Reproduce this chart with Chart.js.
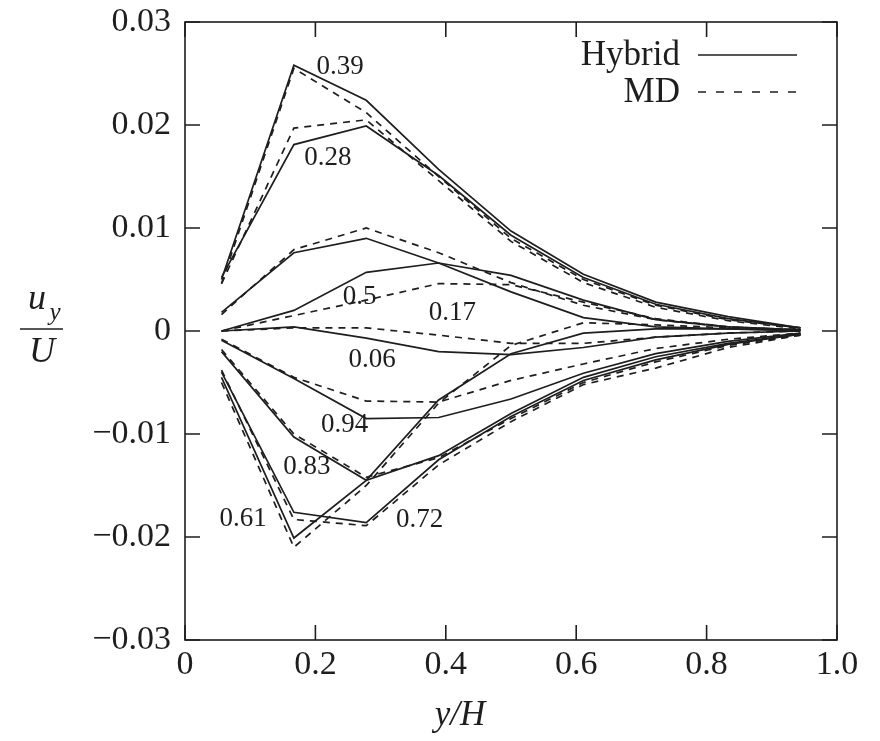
<!DOCTYPE html>
<html>
<head>
<meta charset="utf-8">
<script src="https://cdn.jsdelivr.net/npm/chart.js@4.4.1/dist/chart.umd.min.js"></script>
<style>
  html, body { margin: 0; padding: 0; background: #ffffff; }
  #wrap { width: 880px; height: 741px; }
</style>
</head>
<body>
<div id="wrap"><canvas id="c" width="880" height="741"></canvas></div>
<script>
// Sample positions across the channel (bin centres, y/H)
const yOverH = [0.056, 0.167, 0.278, 0.389, 0.5, 0.611, 0.722, 0.833, 0.944];

// Phase of the cycle for each profile
const phases = ['0.06', '0.17', '0.28', '0.39', '0.5', '0.61', '0.72', '0.83', '0.94'];

// u_y / U profiles, hybrid solver
const hybrid006 = [0.0000, 0.0004, -0.0007, -0.0020, -0.0023, -0.0016, -0.0006, -0.0002, 0.0000];
const hybrid017 = [0.0018, 0.0076, 0.0090, 0.0066, 0.0038, 0.0013, 0.0004, 0.0002, 0.0000];
const hybrid028 = [0.0052, 0.0181, 0.0199, 0.0151, 0.0093, 0.0052, 0.0026, 0.0012, 0.0003];
const hybrid039 = [0.0050, 0.0258, 0.0224, 0.0157, 0.0097, 0.0055, 0.0028, 0.0014, 0.0003];
const hybrid050 = [0.0000, 0.0020, 0.0057, 0.0066, 0.0054, 0.0030, 0.0011, 0.0004, 0.0001];
const hybrid061 = [-0.0045, -0.0201, -0.0145, -0.0067, -0.0022, -0.0002, 0.0002, 0.0002, 0.0001];
const hybrid072 = [-0.0040, -0.0176, -0.0186, -0.0125, -0.0083, -0.0048, -0.0028, -0.0013, -0.0003];
const hybrid083 = [-0.0020, -0.0103, -0.0145, -0.0121, -0.0080, -0.0045, -0.0025, -0.0012, -0.0003];
const hybrid094 = [-0.0009, -0.0046, -0.0085, -0.0084, -0.0066, -0.0041, -0.0022, -0.0010, -0.0002];

// u_y / U profiles, full molecular dynamics
const md006 = [0.0000, 0.0003, 0.0003, -0.0004, -0.0012, -0.0012, -0.0006, -0.0002, 0.0000];
const md017 = [0.0016, 0.0079, 0.0100, 0.0076, 0.0047, 0.0025, 0.0011, 0.0004, 0.0001];
const md028 = [0.0046, 0.0197, 0.0205, 0.0146, 0.0087, 0.0047, 0.0023, 0.0010, 0.0002];
const md039 = [0.0046, 0.0255, 0.0212, 0.0150, 0.0090, 0.0050, 0.0025, 0.0011, 0.0003];
const md050 = [0.0000, 0.0015, 0.0030, 0.0046, 0.0045, 0.0028, 0.0012, 0.0004, 0.0001];
const md061 = [-0.0050, -0.0210, -0.0150, -0.0070, -0.0014, 0.0008, 0.0006, 0.0003, 0.0001];
const md072 = [-0.0038, -0.0183, -0.0189, -0.0130, -0.0088, -0.0052, -0.0036, -0.0016, -0.0004];
const md083 = [-0.0018, -0.0100, -0.0142, -0.0123, -0.0085, -0.0050, -0.0030, -0.0014, -0.0004];
const md094 = [-0.0008, -0.0045, -0.0068, -0.0069, -0.0048, -0.0032, -0.0017, -0.0008, -0.0002];

const hybridSeries = [hybrid006, hybrid017, hybrid028, hybrid039, hybrid050, hybrid061, hybrid072, hybrid083, hybrid094];
const mdSeries = [md006, md017, md028, md039, md050, md061, md072, md083, md094];

// Axis ticks
const xTickValues = [0, 0.2, 0.4, 0.6, 0.8, 1.0];
const xTickLabels = ['0', '0.2', '0.4', '0.6', '0.8', '1.0'];
const yTickValues = [0.03, 0.02, 0.01, 0, -0.01, -0.02, -0.03];
const yTickLabels = ['0.03', '0.02', '0.01', '0', '\u22120.01', '\u22120.02', '\u22120.03'];

// Where each phase tag sits, in axis units (y/H, u_y/U)
const phaseTagX = [0.287, 0.410, 0.219, 0.238, 0.268, 0.089, 0.360, 0.187, 0.245];
const phaseTagY = [-0.0028, 0.0018, 0.0168, 0.0256, 0.0033, -0.0182, -0.0183, -0.0132, -0.0091];

const INK = '#1e1e1e';
const SERIF = '"Liberation Serif", "DejaVu Serif", serif';

const toPoints = vals => vals.map((v, i) => ({ x: yOverH[i], y: v }));

const datasets = [];
phases.forEach((p, k) => {
  datasets.push({
    label: 'Hybrid ' + p,
    data: toPoints(hybridSeries[k]),
    borderColor: INK, borderWidth: 1.7, pointRadius: 0, tension: 0, fill: false
  });
  datasets.push({
    label: 'MD ' + p,
    data: toPoints(mdSeries[k]),
    borderColor: INK, borderWidth: 1.7, borderDash: [7, 6], pointRadius: 0, tension: 0, fill: false
  });
});

// Frame with inward ticks on all four sides
const framePlugin = {
  id: 'frame',
  afterDraw(chart) {
    const { ctx, chartArea: a, scales } = chart;
    const len = 15;
    ctx.save();
    ctx.strokeStyle = INK;
    ctx.lineWidth = 1.6;
    ctx.strokeRect(a.left, a.top, a.right - a.left, a.bottom - a.top);
    ctx.beginPath();
    xTickValues.forEach(v => {
      const px = scales.x.getPixelForValue(v);
      ctx.moveTo(px, a.bottom); ctx.lineTo(px, a.bottom - len);
      ctx.moveTo(px, a.top); ctx.lineTo(px, a.top + len);
    });
    yTickValues.forEach(v => {
      const py = scales.y.getPixelForValue(v);
      ctx.moveTo(a.left, py); ctx.lineTo(a.left + len, py);
      ctx.moveTo(a.right, py); ctx.lineTo(a.right - len, py);
    });
    ctx.stroke();
    ctx.restore();
  }
};

// Phase tags, legend and axis titles
const textPlugin = {
  id: 'texts',
  afterDraw(chart) {
    const { ctx, scales } = chart;
    ctx.save();
    ctx.fillStyle = INK;
    ctx.textAlign = 'center';
    ctx.textBaseline = 'middle';
    ctx.font = '27px ' + SERIF;
    phases.forEach((p, k) => {
      ctx.fillText(p, scales.x.getPixelForValue(phaseTagX[k]), scales.y.getPixelForValue(phaseTagY[k]));
    });

    // legend: text on the left, line sample on the right
    ctx.font = '35px ' + SERIF;
    ctx.textAlign = 'right';
    ctx.fillText('Hybrid', 680, 56);
    ctx.fillText('MD', 680, 93);
    ctx.strokeStyle = INK;
    ctx.lineWidth = 1.6;
    ctx.beginPath(); ctx.moveTo(698, 55); ctx.lineTo(797, 55); ctx.stroke();
    ctx.setLineDash([8, 10]);
    ctx.beginPath(); ctx.moveTo(698, 92); ctx.lineTo(797, 92); ctx.stroke();
    ctx.setLineDash([]);

    // x-axis title
    ctx.font = 'italic 35px ' + SERIF;
    ctx.textAlign = 'center';
    ctx.fillText('y/H', 460, 716);

    // y-axis title as a fraction u_y / U
    ctx.font = 'italic 36px ' + SERIF;
    ctx.textAlign = 'center';
    ctx.fillText('u', 37, 300);
    ctx.font = 'italic 25px ' + SERIF;
    ctx.fillText('y', 55, 313);
    ctx.beginPath(); ctx.moveTo(20, 329); ctx.lineTo(63, 329); ctx.lineWidth = 1.6; ctx.stroke();
    ctx.font = 'italic 36px ' + SERIF;
    ctx.fillText('U', 42, 353);
    ctx.restore();
  }
};

new Chart(document.getElementById('c'), {
  type: 'line',
  data: { datasets },
  options: {
    responsive: false,
    animation: false,
    events: [],
    layout: { padding: { left: 0, right: 43, top: 22, bottom: 0 } },
    plugins: { legend: { display: false }, tooltip: { enabled: false } },
    scales: {
      x: {
        type: 'linear', min: 0, max: 1,
        afterBuildTicks: s => { s.ticks = xTickValues.map(v => ({ value: v })); },
        afterFit: s => { s.height = 101; s.paddingLeft = 0; s.paddingRight = 0; },
        grid: { display: false, drawTicks: false },
        border: { display: false },
        ticks: {
          color: INK, padding: 5, maxRotation: 0, autoSkip: false,
          font: { family: SERIF, size: 34 },
          callback: (v, i) => xTickLabels[i]
        }
      },
      y: {
        type: 'linear', min: -0.03, max: 0.03,
        afterBuildTicks: s => { s.ticks = yTickValues.map(v => ({ value: v })); },
        afterFit: s => { s.width = 185; s.paddingTop = 0; s.paddingBottom = 0; },
        grid: { display: false, drawTicks: false },
        border: { display: false },
        ticks: {
          color: INK, padding: 14, autoSkip: false,
          font: { family: SERIF, size: 34 },
          callback: (v, i) => yTickLabels[i]
        }
      }
    }
  },
  plugins: [framePlugin, textPlugin]
});
</script>
</body>
</html>
